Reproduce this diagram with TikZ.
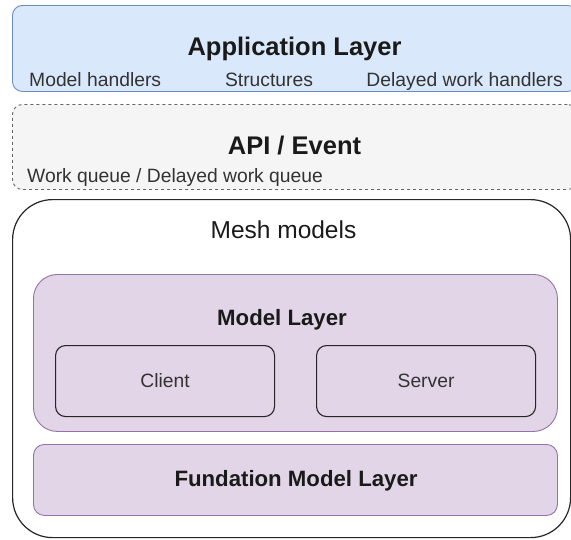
\documentclass[tikz,border=0pt]{standalone}
\usepackage{fontspec}
\setmainfont{Liberation Sans}
\definecolor{appfill}{HTML}{DAE8FC}
\definecolor{appline}{HTML}{6C8EBF}
\definecolor{apifill}{HTML}{F5F5F5}
\definecolor{apiline}{HTML}{666666}
\definecolor{modfill}{HTML}{E1D5E7}
\definecolor{modline}{HTML}{9673A6}
\definecolor{txtgray}{HTML}{333333}
\definecolor{txtdark}{HTML}{1A1A1A}
\tikzset{
  panel/.style={draw, inner sep=0pt, anchor=north west, line width=0.9pt},
  bluebox/.style={panel, fill=appfill, draw=appline, rounded corners=10pt},
  dashbox/.style={panel, fill=apifill, draw=apiline, rounded corners=10pt, dash pattern=on 3pt off 3pt},
  meshbox/.style={panel, fill=white, draw=black!85, rounded corners=40pt, line width=1.2pt},
  purplebox/.style={panel, fill=modfill, draw=modline},
  rolebox/.style={panel, draw=black!85, rounded corners=10pt, line width=1.1pt},
  title/.style={inner sep=0pt, anchor=base, text=txtdark, font=\fontsize{25.5}{30}\selectfont\bfseries},
  subtitle/.style={inner sep=0pt, anchor=base, text=txtdark, font=\fontsize{22.2}{26}\selectfont\bfseries},
  label/.style={inner sep=0pt, anchor=base, text=txtgray, font=\fontsize{19.3}{23}\selectfont},
}
\begin{document}
\begin{tikzpicture}[x=1pt, y=-1pt]
  \useasboundingbox (0,0) rectangle (571,539);

  % application layer
  \node[bluebox, minimum width=565pt, minimum height=86pt] (app) at (12,5) {};
  \node[title] (apptitle) at (294.5,55) {Application Layer};
  \node[label, anchor=base west] (handlers) at (29,86.7) {Model handlers};
  \node[label] (structs) at (269,86.7) {Structures};
  \node[label, anchor=base east] (delayed) at (563,86.7) {Delayed work handlers};

  % API / event layer
  \node[dashbox, minimum width=565pt, minimum height=85pt] (api) at (12,104) {};
  \node[title] (apititle) at (294.5,154.3) {API / Event};
  \node[label, anchor=base west] (queue) at (27,182) {Work queue / Delayed work queue};

  % mesh models container
  \node[meshbox, minimum width=558pt, minimum height=338pt] (mesh) at (12,199) {};
  \node[label, text=txtdark, font=\fontsize{24.5}{28}\selectfont] (meshtitle) at (283.5,238) {Mesh models};

  % model layer with client and server
  \node[purplebox, rounded corners=24pt, minimum width=524pt, minimum height=157pt] (model) at (33,274) {};
  \node[subtitle] (modeltitle) at (282,325) {Model Layer};
  \node[rolebox, minimum width=219pt, minimum height=71pt] (client) at (55,345) {};
  \node[label] at (client.center) [anchor=center] (clienttext) {Client};
  \node[rolebox, minimum width=219pt, minimum height=71pt] (server) at (316,345) {};
  \node[label] at (server.center) [anchor=center] (servertext) {Server};

  % foundation model layer
  \node[purplebox, rounded corners=11pt, minimum width=524pt, minimum height=71pt] (found) at (33,444) {};
  \node[subtitle] (foundtitle) at (296,486.7) {Fundation Model Layer};
\end{tikzpicture}
\end{document}
